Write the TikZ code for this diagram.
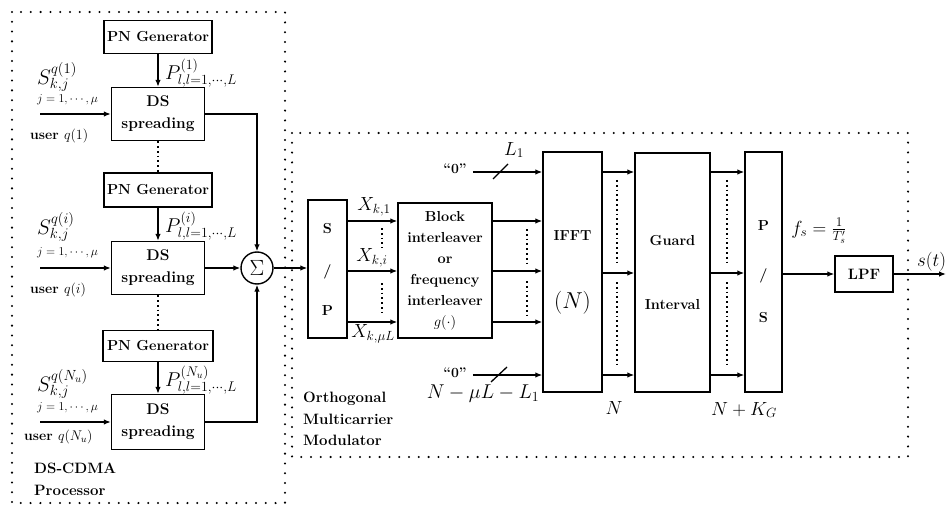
\RequirePackage{fix-cm}
\documentclass[tikz,border=0pt]{standalone}
\usetikzlibrary{arrows.meta,calc}
\newcommand{\fs}[1]{\fontsize{#1}{#1}\selectfont}
\begin{document}
\begin{tikzpicture}[x=1pt,y=-1pt,
  box/.style={draw, line width=1.4pt, inner sep=0pt, align=center, font=\bfseries\fontsize{14.5}{22}\selectfont},
  dsbox/.style={box, minimum width=93, font=\bfseries\fontsize{15.5}{22}\selectfont},
  arr/.style={-{Latex[length=7pt,width=5.5pt]}, line width=1.3pt},
  ln/.style={line width=1.3pt},
  frame/.style={line width=2.3pt, line cap=round, dash pattern=on 0pt off 9.8pt},
  fdot/.style={line width=1.6pt, dash pattern=on 1.8pt off 3pt},
  lab/.style={inner sep=0pt},
  txt/.style={inner sep=0pt, align=left, font=\bfseries\fontsize{15}{21.5}\selectfont},
]
\useasboundingbox (0,0) rectangle (948,508);
\fill[white] (0,0) rectangle (948,508);

% frames
\draw[frame] (12,12) rectangle (285,503);
\draw[frame] (292,133) rectangle (908,457);

% DS-CDMA processor blocks
\node[box, minimum width=108, minimum height=33] (pn1) at (158,37) {PN Generator};
\node[dsbox, minimum height=53] (ds1) at (158,114) {DS\\spreading};
\node[box, minimum width=108, minimum height=34] (pn2) at (158,190) {PN Generator};
\node[dsbox, minimum height=53] (ds2) at (158,268) {DS\\spreading};
\node[box, minimum width=110, minimum height=31] (pn3) at (158,346) {PN Generator};
\node[dsbox, minimum height=55] (ds3) at (158,422) {DS\\spreading};
\node[draw, circle, line width=1.4pt, minimum size=32, inner sep=0pt, font=\fs{22}] (sig) at (257,268) {$\Sigma$};

\draw[arr] (pn1) -- (ds1);
\draw[fdot] (ds1) -- (pn2);
\draw[arr] (pn2) -- (ds2);
\draw[fdot] (ds2) -- (pn3);
\draw[arr] (pn3) -- (ds3);

\coordinate (in1) at (40,114);
\coordinate (in2) at (40,268);
\coordinate (in3) at (40,422);
\draw[arr] (in1) -- (ds1.west);
\draw[arr] (in2) -- (ds2.west);
\draw[arr] (in3) -- (ds3.west);
\draw[arr] (ds1.east) -| (sig.north);
\draw[arr] (ds2.east) -- (sig.west);
\draw[arr] (ds3.east) -| (sig.south);

% labels left
\node[lab, anchor=west, font=\fs{21}] (s1) at (37,77) {$S^{q(1)}_{k,j}$};
\node[lab, anchor=west, font=\fs{12}] (j1) at (37,100) {$j=1,\cdots,\mu$};
\node[lab, anchor=west, font=\bfseries\fs{14}] (u1) at (30,136) {user $q(1)$};
\node[lab, anchor=west, font=\fs{20}] (p1) at (165,73) {$P^{(1)}_{l,l=1,\cdots,L}$};

\node[lab, anchor=west, font=\fs{21}] (s2) at (37,227) {$S^{q(i)}_{k,j}$};
\node[lab, anchor=west, font=\fs{12}] (j2) at (37,253) {$j=1,\cdots,\mu$};
\node[lab, anchor=west, font=\bfseries\fs{14}] (u2) at (30,290) {user $q(i)$};
\node[lab, anchor=west, font=\fs{20}] (p2) at (165,226) {$P^{(i)}_{l,l=1,\cdots,L}$};

\node[lab, anchor=west, font=\fs{21}] (s3) at (37,384) {$S^{q(N_u)}_{k,j}$};
\node[lab, anchor=west, font=\fs{12}] (j3) at (37,408) {$j=1,\cdots,\mu$};
\node[lab, anchor=west, font=\bfseries\fs{14}] (u3) at (24,437) {user $q(N_u)$};
\node[lab, anchor=west, font=\fs{20}] (p3) at (165,380) {$P^{(N_u)}_{l,l=1,\cdots,L}$};

\node[txt, anchor=north west] (dsc) at (34,463) {DS-CDMA\\Processor};

% multicarrier modulator
\node[box, minimum width=39, minimum height=138] (sp) at (327.5,269) {S\\[20pt]/\\[18pt]P};
\node[box, minimum width=94, minimum height=135, font=\bfseries\fontsize{14.5}{21}\selectfont] (il) at (445,270.5) {Block\\interleaver\\or\\frequency\\interleaver\\$g(\cdot)$};
\node[box, minimum width=59, minimum height=240] (ifft) at (572.5,272) {IFFT\\[46pt]{\fs{23}$(N)$}};
\node[box, minimum width=75, minimum height=239] (gi) at (672.5,272.5) {Guard\\[42pt]Interval};
\node[box, minimum width=37, minimum height=240] (ps) at (763.5,272) {P\\[27pt]/\\[21pt]S};
\node[box, minimum width=58, minimum height=36, font=\bfseries\fs{15}] (lpf) at (864,274) {LPF};

\draw[arr] (sig.east) -- (sig.east -| sp.west);

\coordinate (r1) at (0,221);
\coordinate (r2) at (0,271);
\coordinate (r3) at (0,322);
\coordinate (t0) at (0,172);
\coordinate (m0) at (0,273);
\coordinate (b0) at (0,375);

\draw[arr] (sp.east |- r1) -- (il.west |- r1);
\draw[arr] (sp.east |- r2) -- (il.west |- r2);
\draw[arr] (sp.east |- r3) -- (il.west |- r3);
\draw[arr] (il.east |- r1) -- (ifft.west |- r1);
\draw[arr] (il.east |- r2) -- (ifft.west |- r2);
\draw[arr] (il.east |- r3) -- (ifft.west |- r3);

\node[lab, font=\bfseries\fs{14}] (z1) at (455,169) {``0''};
\node[lab, font=\bfseries\fs{14}] (z2) at (455,373) {``0''};
\draw[arr] ([xshift=6pt]z1.east |- t0) -- (ifft.west |- t0);
\draw[arr] ([xshift=6pt]z2.east |- b0) -- (ifft.west |- b0);
\draw[ln] (493,179) -- (508,164);
\draw[ln] (491,382) -- (507,367);
\node[lab, font=\fs{19}] (l1) at (514,150) {$L_1$};
\node[lab, font=\fs{20}] (nml) at (483,394) {$N-\mu L-L_1$};

\draw[arr] (ifft.east |- t0) -- (gi.west |- t0);
\draw[arr] (ifft.east |- m0) -- (gi.west |- m0);
\draw[arr] (ifft.east |- b0) -- (gi.west |- b0);
\draw[arr] (gi.east |- t0) -- (ps.west |- t0);
\draw[arr] (gi.east |- m0) -- (ps.west |- m0);
\draw[arr] (gi.east |- b0) -- (ps.west |- b0);
\draw[arr] (ps.east |- lpf.west) -- (lpf.west);
\coordinate (out) at (946,274);
\draw[arr] (lpf.east) -- (out);

% ellipsis dots
\draw[fdot] (382,228) -- (382,248);
\draw[fdot] (382,283) -- (382,313);
\draw[fdot] (527,229) -- (527,263);
\draw[fdot] (527,281) -- (527,315);
\draw[fdot] (617,180) -- (617,265);
\draw[fdot] (617,282) -- (617,367);
\draw[fdot] (727,180) -- (727,265);
\draw[fdot] (727,282) -- (727,367);

% labels right
\node[lab, font=\fs{19}] (x1) at (374,207) {$X_{k,1}$};
\node[lab, font=\fs{19}] (x2) at (372,258) {$X_{k,i}$};
\node[lab, font=\fs{19}] (x3) at (373,334) {$X_{k,\mu L}$};
\node[lab, font=\fs{19}] (nn) at (614,408) {$N$};
\node[lab, font=\fs{19}] (nk) at (744,410) {$N+K_G$};
\node[lab, font=\fs{19}] (fs) at (819,231) {$f_s=\frac{1}{T'_s}$};
\node[lab, anchor=west, font=\fs{19}] (st) at (917,262) {$s(t)$};

\node[txt, anchor=north west] (omm) at (303,392) {Orthogonal\\Multicarrier\\Modulator};
\end{tikzpicture}
\end{document}
